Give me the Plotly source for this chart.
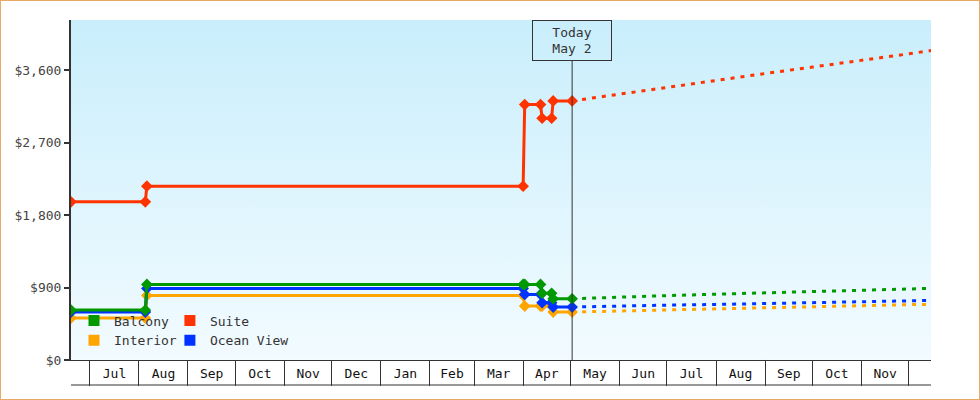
import plotly.graph_objects as go

# ---- data ----
obs_dates = ["2013-06-19", "2013-08-05", "2013-08-06", "2014-04-01", "2014-04-02",
             "2014-04-12", "2014-04-13", "2014-04-19", "2014-04-20", "2014-05-02"]
suite_hist = [1965, 1965, 2160, 2160, 3174, 3174, 3004, 3004, 3220, 3220]
balcony_hist = [621, 621, 939, 939, 939, 939, 828, 828, 761, 761]
ocean_hist = [595, 595, 890, 890, 815, 815, 712, 712, 658, 658]
interior_hist = [521, 521, 803, 803, 670, 670, 670, 670, 596, 596]

proj_dates = ["2014-05-02", "2014-06-01", "2014-07-01", "2014-08-01", "2014-09-01",
              "2014-10-01", "2014-11-01", "2014-12-01", "2014-12-15"]
suite_proj = [3220, 3305, 3390, 3480, 3560, 3640, 3720, 3805, 3845]
balcony_proj = [761, 785, 800, 818, 833, 850, 866, 882, 890]
ocean_proj = [658, 672, 682, 690, 702, 713, 725, 736, 740]
interior_proj = [596, 610, 625, 640, 652, 664, 676, 688, 690]

today = "2014-05-02"
x_range = ["2013-06-19", "2014-12-15"]
y_max = 4225
y_ticks = [0, 900, 1800, 2700, 3600]
y_ticktext = ["$0", "$900", "$1,800", "$2,700", "$3,600"]

COLORS = {"Balcony": "#009900", "Suite": "#ff3300",
          "Interior": "#ffa500", "Ocean View": "#0033ff"}
FONT = "DejaVu Sans Mono"
INK = "#333333"

series = [  # draw order
    ("Interior", interior_hist, interior_proj),
    ("Ocean View", ocean_hist, ocean_proj),
    ("Balcony", balcony_hist, balcony_proj),
    ("Suite", suite_hist, suite_proj),
]

fig = go.Figure()

# gradient plot background
fig.add_trace(go.Scatter(
    x=[x_range[0], x_range[1], x_range[1], x_range[0], x_range[0]],
    y=[0, 0, y_max, y_max, 0],
    mode="none", fill="toself",
    fillgradient=dict(type="vertical",
                      colorscale=[[0, "#f2fbff"], [1, "#c9eefc"]]),
    hoverinfo="skip", showlegend=False))

for name, hist, proj in series:
    c = COLORS[name]
    fig.add_trace(go.Scatter(
        x=proj_dates, y=proj, mode="lines",
        line=dict(color=c, width=3, dash="4px,6px"),
        showlegend=False, hoverinfo="skip"))
    fig.add_trace(go.Scatter(
        x=obs_dates, y=hist, mode="lines+markers",
        line=dict(color=c, width=3),
        marker=dict(symbol="diamond", size=9, color=c),
        name=name, showlegend=False))

# legend: one small legend per entry, laid out 2 x 2
legend_slots = [("Balcony", "legend", 0.0035, 0.116),
                ("Suite", "legend2", 0.115, 0.116),
                ("Interior", "legend3", 0.0035, 0.058),
                ("Ocean View", "legend4", 0.115, 0.058)]
legend_layout = {}
for name, lg, lx, ly in legend_slots:
    fig.add_trace(go.Scatter(
        x=[None], y=[None], mode="markers", name=name,
        marker=dict(symbol="square", size=11, color=COLORS[name]),
        legend=lg, showlegend=True))
    legend_layout[lg] = dict(x=lx, y=ly, xanchor="left", yanchor="middle",
                             orientation="h", bgcolor="rgba(0,0,0,0)",
                             borderwidth=0, itemwidth=30,
                             font=dict(family=FONT, size=13, color=INK))

# today marker
fig.add_shape(type="line", xref="x", yref="paper", x0=today, x1=today,
              y0=0, y1=0.88, line=dict(color=INK, width=1))
fig.add_annotation(x=today, xref="x", y=1, yref="paper", yanchor="top",
                   text="Today<br>May 2", showarrow=False,
                   font=dict(family=FONT, size=13, color=INK),
                   bordercolor=INK, borderwidth=1, borderpad=1,
                   width=76, height=37)

# bottom rule of the month boxes
fig.add_shape(type="line", xref="paper", yref="paper", x0=0, x1=1,
              y0=-25 / 340, y1=-25 / 340, line=dict(color=INK, width=1))
# orange frame around the whole picture
fig.add_shape(type="rect", xref="paper", yref="paper",
              x0=-71 / 860, x1=1 + 49 / 860, y0=-40 / 340, y1=1 + 20 / 340,
              line=dict(color="#e8aa66", width=2), layer="above")

fig.update_layout(
    width=980, height=400,
    margin=dict(l=71, r=49, t=20, b=40),
    paper_bgcolor="white", plot_bgcolor="white",
    font=dict(family=FONT, size=13, color=INK),
    xaxis=dict(type="date", range=x_range, tick0="2013-07-01", dtick="M1",
               tickformat="%b", ticklabelmode="period",
               ticks="outside", ticklen=25, tickwidth=1, tickcolor=INK,
               ticklabelstandoff=-24,
               showline=True, linecolor=INK, linewidth=1,
               showgrid=False, zeroline=False,
               tickfont=dict(family=FONT, size=13, color="#111")),
    yaxis=dict(range=[0, y_max], tickvals=y_ticks, ticktext=y_ticktext,
               ticks="outside", ticklen=5, tickwidth=2,
               tickcolor=INK, showline=True, linecolor=INK, linewidth=2,
               showgrid=False, zeroline=False,
               tickfont=dict(family=FONT, size=13, color="#444")),
    showlegend=True,
    **legend_layout,
)

# drop the browser's default body margin so the chart sits at the page corner
fig.write_html("out.html", config={"displayModeBar": False},
               post_script="document.body.style.margin = '0';")
